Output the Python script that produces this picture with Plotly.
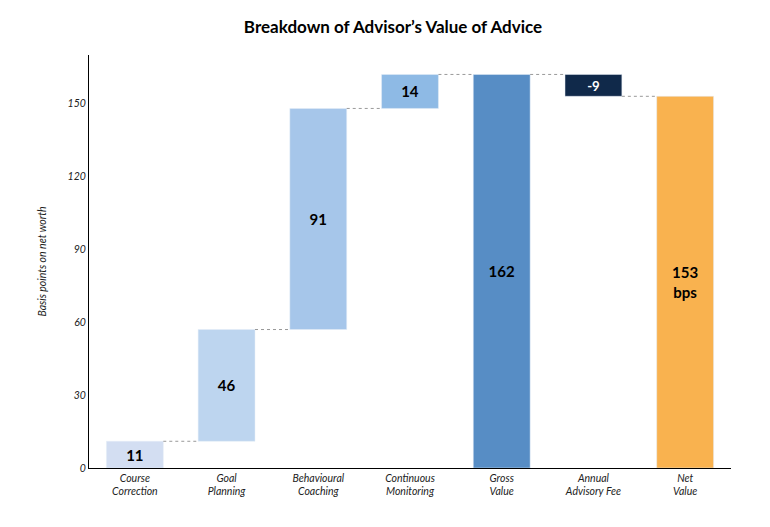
import plotly.graph_objects as go

categories = ["Course<br>Correction", "Goal<br>Planning", "Behavioural<br>Coaching",
              "Continuous<br>Monitoring", "Gross<br>Value", "Annual<br>Advisory Fee", "Net<br>Value"]
values = [11, 46, 91, 14, 162, -9, 153]
kinds = ["rel", "rel", "rel", "rel", "total", "rel", "total"]
labels = ["11", "46", "91", "14", "162", "-9", "153<br>bps"]
colors = ["#d3def2", "#bdd5ef", "#a6c6ea", "#8ebae5", "#578dc5", "#10294a", "#f9b24f"]
label_colors = ["black"] * 5 + ["white", "black"]

bases, heights, levels = [], [], []
cum = 0
for v, k in zip(values, kinds):
    if k == "total":
        bases.append(0)
        heights.append(v)
        cum = v
    else:
        bases.append(cum if v >= 0 else cum + v)
        heights.append(abs(v))
        cum += v
    levels.append(cum)

fig = go.Figure(go.Bar(
    x=list(range(len(categories))), y=heights, base=bases,
    marker_color=colors, width=0.62,
    text=["<b>%s</b>" % t for t in labels], textposition="inside",
    insidetextanchor="middle", textangle=0,
    textfont=dict(size=15, color=label_colors, family="Lato"),
    hoverinfo="skip"))

for i in range(len(values) - 1):
    fig.add_shape(type="line", x0=i + 0.31, x1=i + 1 - 0.31, y0=levels[i], y1=levels[i],
                  line=dict(color="#999999", width=1, dash="dot"))

fig.update_layout(
    width=770, height=527, plot_bgcolor="white", paper_bgcolor="white",
    title=dict(text="<b>Breakdown of Advisor’s Value of Advice</b>", x=0.5, y=0.975,
               font=dict(size=17, family="Lato", color="black")),
    margin=dict(l=81, r=47, t=47, b=67), showlegend=False,
    xaxis=dict(tickmode="array", tickvals=list(range(len(categories))), ticktext=categories,
               range=[-0.5, 6.5], showline=True, linecolor="black", linewidth=1,
               tickfont=dict(size=10.5, family="Lato", style="italic", color="#222")),
    yaxis=dict(range=[0, 170], tickvals=[0, 30, 60, 90, 120, 150], showgrid=False,
               showline=True, linecolor="black", linewidth=1, zeroline=False,
               title=dict(text="Basis points on net worth", standoff=18,
                          font=dict(size=10.5, family="Lato", style="italic", color="#222")),
               tickfont=dict(size=10.5, family="Lato", style="italic", color="#222")),
)
fig.write_html("out.html")
